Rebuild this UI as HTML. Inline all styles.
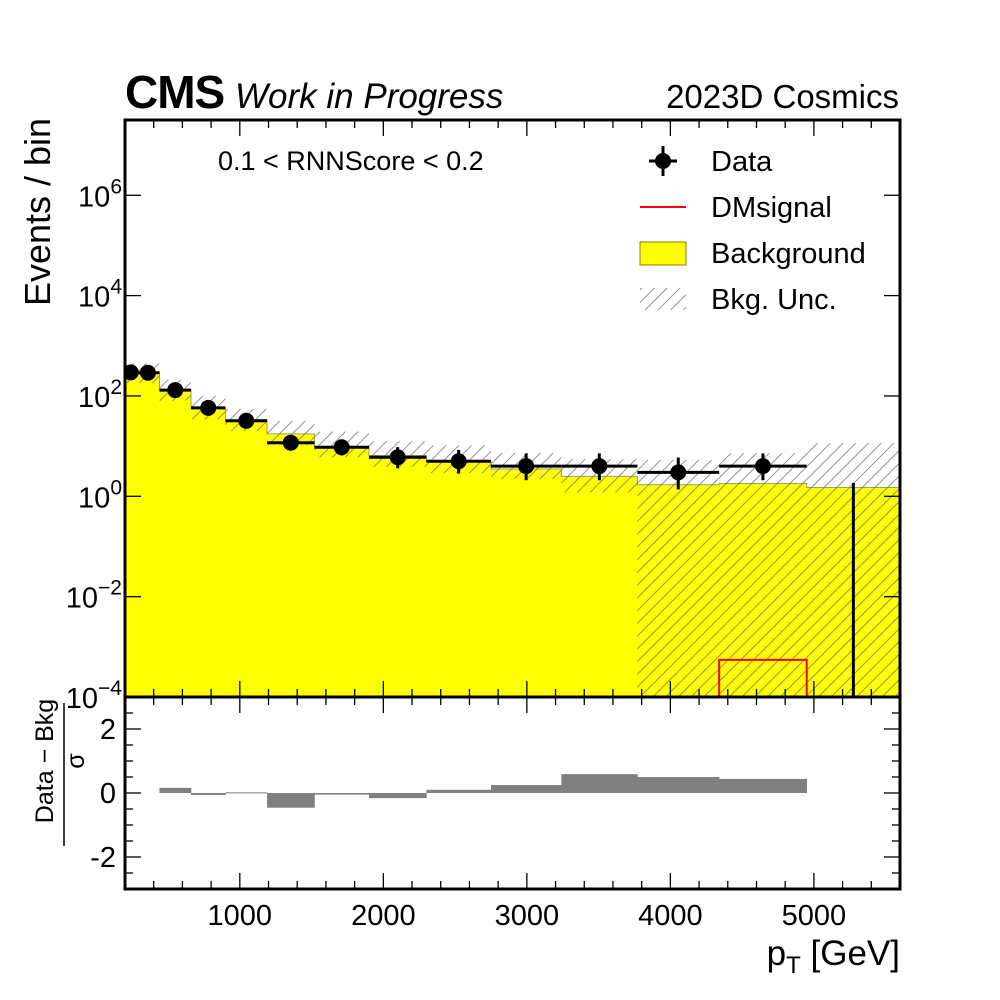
<!DOCTYPE html>
<html><head><meta charset="utf-8"><style>
html,body{margin:0;padding:0;background:#fff;}
svg{display:block;font-family:"Liberation Sans",sans-serif;}
</style></head><body>
<svg id="c" width="1000" height="1000" viewBox="0 0 1000 1000" xmlns="http://www.w3.org/2000/svg">
<defs>
<pattern id="hatch" patternUnits="userSpaceOnUse" width="9" height="9" patternTransform="rotate(45)">
<line x1="0" y1="0" x2="0" y2="9" stroke="#707070" stroke-width="1.5"/>
</pattern>
<clipPath id="mainclip"><rect x="125" y="120" width="775" height="577"/></clipPath>
<clipPath id="ratioclip"><rect x="125" y="697" width="775" height="192"/></clipPath>
</defs>
<g id="main" clip-path="url(#mainclip)"></g>
<g id="ratio" clip-path="url(#ratioclip)"></g>
<g id="axes"></g>
<text x="125" y="108" font-size="46" font-weight="bold" letter-spacing="-1">CMS</text>
<text x="235" y="108" font-size="35" font-style="italic">Work in Progress</text>
<text x="899" y="108" font-size="33" text-anchor="end">2023D Cosmics</text>
<text x="218" y="170" font-size="27">0.1 &lt; RNNScore &lt; 0.2</text>
<text transform="translate(50,212) rotate(-90)" font-size="36" text-anchor="middle">Events / bin</text>
<g>
<text transform="translate(53,761) rotate(-90)" font-size="25" text-anchor="middle">Data − Bkg</text>
<line x1="64" y1="703" x2="64" y2="846" stroke="#000" stroke-width="1.5"/>
<text transform="translate(84,761) rotate(-90)" font-size="25" text-anchor="middle">σ</text>
</g>
<text x="900" y="965" font-size="35" text-anchor="end">p<tspan font-size="24" dy="8">T</tspan><tspan dy="-8"> [GeV]</tspan></text>
<g>
<g>
<line x1="663" y1="146" x2="663" y2="176" stroke="#000" stroke-width="3"/>
<line x1="649" y1="161" x2="677" y2="161" stroke="#000" stroke-width="3"/>
<circle cx="663" cy="161" r="8" fill="#000"/>
<text x="711" y="171" font-size="29">Data</text>
</g>
<g>
<line x1="640" y1="207" x2="686" y2="207" stroke="#f00" stroke-width="2"/>
<text x="711" y="217" font-size="29">DMsignal</text>
</g>
<g>
<rect x="640" y="242" width="46" height="23" fill="#ffff00" stroke="#808000" stroke-width="1"/>
<text x="711" y="263" font-size="29">Background</text>
</g>
<g>
<rect x="640" y="288" width="46" height="22" fill="url(#hatch)"/>
<text x="711" y="309" font-size="29">Bkg. Unc.</text>
</g>
</g>
</svg>
<script>
const binEdges = [200, 280, 440, 660, 900, 1190, 1520, 1900, 2300, 2750, 3240, 3770, 4340, 4950, 5600];
const bkgValues = [295, 295, 132, 57, 32, 17.5, 9.8, 6.5, 4.9, 3.5, 2.5, 1.7, 1.8, 1.5];
const bkgUncUp = [450, 450, 210, 100, 55, 32, 19.5, 12.5, 10.3, 7.3, 5.5, 5.3, 7.2, 11.5];
const bkgUncDown = [180, 180, 80, 34, 20, 10.5, 6, 3.9, 2.9, 2.2, 1.2, 0.00001, 0.00001, 0.00001];
const dataCenters = [240, 360, 550, 780, 1045, 1355, 1710, 2100, 2525, 2995, 3505, 4055, 4645, 5275];
const dataValues = [295, 290, 131, 58, 32, 11.7, 9.5, 6, 5, 4, 4, 3, 4, 0];
const dataErrLo = [17, 17, 11.4, 7.6, 5.6, 3.4, 3.0, 2.38, 2.16, 1.91, 1.91, 1.63, 1.91, 0];
const dataErrHi = [17, 17, 11.4, 7.6, 5.6, 4.5, 4.1, 3.58, 3.38, 3.16, 3.16, 2.92, 3.16, 1.84];
const signalValues = [0, 0, 0, 0, 0, 0, 0, 0, 0, 0, 0, 0, 0.00055, 0];
const pullValues = [null, null, 0.16, -0.06, 0.02, -0.46, -0.05, -0.16, 0.10, 0.25, 0.59, 0.50, 0.44, null];
const xTickLabels = [1000, 2000, 3000, 4000, 5000];
const yTickExps = [-4, -2, 0, 2, 4, 6];
const ratioTickLabels = [-2, 0, 2];

const NS = "http://www.w3.org/2000/svg";
const X0 = 125, X1 = 900, XMIN = 200, XMAX = 5600;
const YT = 120, YB = 697, LMIN = -4, LMAX = 7.5;
const RT = 697, RB = 889, RMIN = -3, RMAX = 3;
function xs(v) { return X0 + (v - XMIN) / (XMAX - XMIN) * (X1 - X0); }
function ys(v) { const l = Math.log10(Math.max(v, 1e-6)); return YB - (l - LMIN) / (LMAX - LMIN) * (YB - YT); }
function yr(v) { return RB - (v - RMIN) / (RMAX - RMIN) * (RB - RT); }
function mk(tag, attrs, parent) {
  const e = document.createElementNS(NS, tag);
  for (const k in attrs) e.setAttribute(k, attrs[k]);
  parent.appendChild(e); return e;
}
const main = document.getElementById("main");
const ratio = document.getElementById("ratio");
const axes = document.getElementById("axes");

for (let i = 0; i < bkgValues.length; i++) {
  const x0 = xs(binEdges[i]), x1 = xs(binEdges[i + 1]);
  const r = mk("rect", {x: x0, y: ys(bkgValues[i]), width: x1 - x0 + 0.5, height: YB - ys(bkgValues[i]), fill: "#ffff00"}, main);
  
  
}
let d = "";
for (let i = 0; i < bkgValues.length; i++) {
  const x0 = xs(binEdges[i]), x1 = xs(binEdges[i + 1]), y = ys(bkgValues[i]);
  d += (i === 0 ? "M" : "L") + x0 + "," + y + "L" + x1 + "," + y;
}
const bl = mk("path", {d: d, fill: "none", stroke: "#a0a060", "stroke-width": 1}, main);


for (let i = 0; i < bkgUncUp.length; i++) {
  const x0 = xs(binEdges[i]), x1 = xs(binEdges[i + 1]);
  const yu = ys(bkgUncUp[i]), yd = ys(bkgUncDown[i]);
  const r = mk("rect", {x: x0, y: yu, width: x1 - x0, height: Math.min(yd, YB) - yu, fill: "url(#hatch)"}, main);
  
  
}
let sd = "";
for (let i = 0; i < signalValues.length; i++) {
  const x0 = xs(binEdges[i]), x1 = xs(binEdges[i + 1]), y = signalValues[i] > 0 ? ys(signalValues[i]) : YB + 5;
  sd += (i === 0 ? "M" : "L") + x0 + "," + y + "L" + x1 + "," + y;
}
const sp = mk("path", {d: sd, fill: "none", stroke: "#ff0000", "stroke-width": 2}, main);


for (let i = 0; i < dataValues.length; i++) {
  const g = mk("g", {}, main);
  
  
  const cx = xs(dataCenters[i]);
  const lo = dataValues[i] - dataErrLo[i], hi = dataValues[i] + dataErrHi[i];
  mk("line", {x1: cx, x2: cx, y1: ys(hi), y2: lo > 0 ? ys(lo) : YB + 5, stroke: "#000", "stroke-width": 3}, g);
  if (dataValues[i] > 0) {
    mk("line", {x1: xs(binEdges[i]), x2: xs(binEdges[i + 1]), y1: ys(dataValues[i]), y2: ys(dataValues[i]), stroke: "#000", "stroke-width": 3}, g);
    mk("circle", {cx: cx, cy: ys(dataValues[i]), r: 8, fill: "#000"}, g);
  }
}
for (let i = 0; i < pullValues.length; i++) {
  if (pullValues[i] === null) continue;
  const x0 = xs(binEdges[i]), x1 = xs(binEdges[i + 1]);
  const y0 = yr(0), y1 = yr(pullValues[i]);
  const r = mk("rect", {x: x0, y: Math.min(y0, y1), width: x1 - x0 + 0.3, height: Math.max(Math.abs(y1 - y0), 1), fill: "#808080"}, ratio);
  
  
}
for (const [t, b, nm] of [[YT, YB, 'main-frame'], [RT, RB, 'ratio-frame']]) {
  const f = mk("rect", {x: X0, y: t, width: X1 - X0, height: b - t, fill: "none", stroke: "#000", "stroke-width": 3}, axes);
  
  
}
for (let v = 200; v <= 5600; v += 200) {
  const x = xs(v), major = v % 1000 === 0, L = major ? 16 : 8;
  for (const [t, b] of [[YT, YB], [RT, RB]]) {
    mk("line", {x1: x, x2: x, y1: t, y2: t + L, stroke: "#000", "stroke-width": 1.3}, axes);
    mk("line", {x1: x, x2: x, y1: b, y2: b - L, stroke: "#000", "stroke-width": 1.3}, axes);
  }
}
for (const v of xTickLabels) {
  const t = mk("text", {x: xs(v), y: 925, "font-size": 29, "text-anchor": "middle"}, axes);
  t.textContent = v;
  
  
}
for (let e = -4; e <= 6; e += 2) {
  const y = ys(Math.pow(10, e));
  mk("line", {x1: X0, x2: X0 + 16, y1: y, y2: y, stroke: "#000", "stroke-width": 1.3}, axes);
  mk("line", {x1: X1, x2: X1 - 16, y1: y, y2: y, stroke: "#000", "stroke-width": 1.3}, axes);
}
for (const e of yTickExps) {
  const y = ys(Math.pow(10, e));
  const t = mk("text", {x: 122, y: y + 11, "font-size": 29, "text-anchor": "end"}, axes);
  
  
  const a = document.createElementNS(NS, "tspan"); a.textContent = "10"; t.appendChild(a);
  const b = document.createElementNS(NS, "tspan"); b.setAttribute("dy", "-13"); b.setAttribute("font-size", "21");
  b.textContent = e < 0 ? "−" + (-e) : String(e); t.appendChild(b);
}
for (let v = -3; v <= 3; v += 0.5) {
  const y = yr(v), major = Math.abs(v % 2) < 1e-9, L = major ? 16 : 8;
  mk("line", {x1: X0, x2: X0 + L, y1: y, y2: y, stroke: "#000", "stroke-width": 1.3}, axes);
  mk("line", {x1: X1, x2: X1 - L, y1: y, y2: y, stroke: "#000", "stroke-width": 1.3}, axes);
}
for (const v of ratioTickLabels) {
  const t = mk("text", {x: 116, y: yr(v) + 10, "font-size": 29, "text-anchor": "end"}, axes);
  t.textContent = v;
  
  
}
</script>
</body></html>
